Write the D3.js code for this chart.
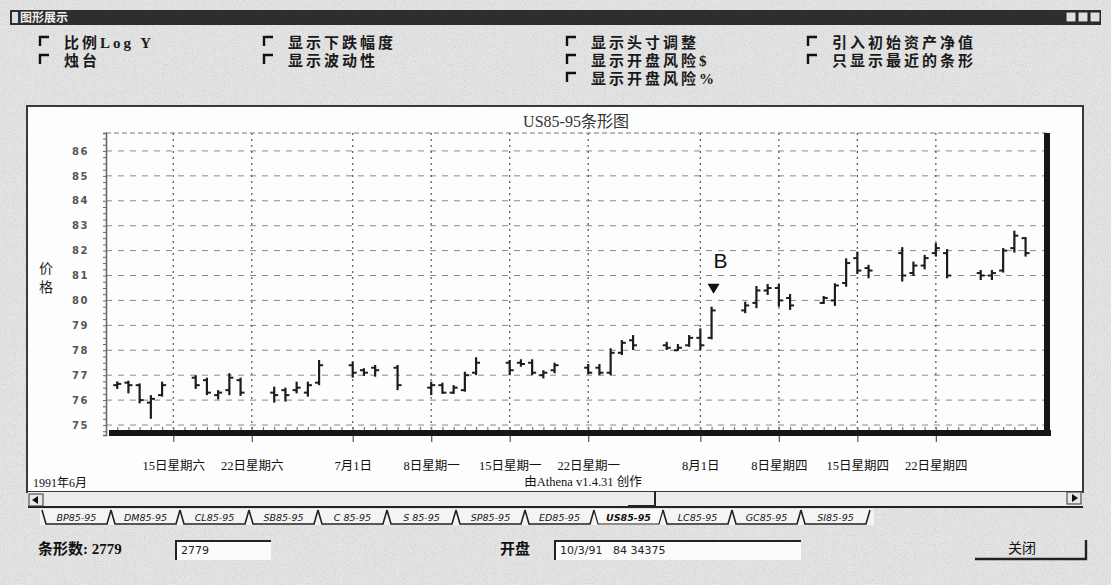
<!DOCTYPE html>
<html><head><meta charset="utf-8">
<script src="https://cdn.jsdelivr.net/npm/d3@7"></script>
<style>body{margin:0;background:#e3e3e3;} svg{display:block}</style>
</head><body><svg id="c" width="1111" height="585"></svg>
<script>
// ---------------- data ----------------
const dates = ["1991-06-10","1991-06-11","1991-06-12","1991-06-13","1991-06-14",
  "1991-06-17","1991-06-18","1991-06-19","1991-06-20","1991-06-21",
  "1991-06-24","1991-06-25","1991-06-26","1991-06-27","1991-06-28",
  "1991-07-01","1991-07-02","1991-07-03","1991-07-05",
  "1991-07-08","1991-07-09","1991-07-10","1991-07-11","1991-07-12",
  "1991-07-15","1991-07-16","1991-07-17","1991-07-18","1991-07-19",
  "1991-07-22","1991-07-23","1991-07-24","1991-07-25","1991-07-26",
  "1991-07-29","1991-07-30","1991-07-31","1991-08-01","1991-08-02",
  "1991-08-05","1991-08-06","1991-08-07","1991-08-08","1991-08-09",
  "1991-08-12","1991-08-13","1991-08-14","1991-08-15","1991-08-16",
  "1991-08-19","1991-08-20","1991-08-21","1991-08-22","1991-08-23",
  "1991-08-26","1991-08-27","1991-08-28","1991-08-29","1991-08-30"];
const open  = [76.6,76.7,76.6,75.9,76.2, 76.9,76.8,76.2,76.4,76.8, 76.3,76.4,76.4,76.3,76.7,
  77.4,77.2,77.3,77.3, 76.5,76.6,76.3,76.4,77.1, 77.5,77.5,77.5,77.0,77.2,
  77.3,77.3,77.1,77.9,78.4, 78.2,78.0,78.2,78.5,78.5, 79.6,79.9,80.4,80.5,80.1,
  79.9,80.0,80.7,81.7,81.3, 81.9,81.1,81.4,81.9,81.9, 81.1,81.0,81.2,82.1,82.5];
const high  = [76.75,76.78,76.67,76.2,76.74, 77.0,76.9,76.4,77.08,76.9, 76.54,76.5,76.74,76.74,77.61,
  77.54,77.28,77.41,77.41, 76.74,76.7,76.6,77.14,77.72, 77.61,77.64,77.64,77.2,77.5,
  77.45,77.45,78.08,78.41,78.61, 78.34,78.25,78.61,78.88,79.75, 79.95,80.58,80.66,80.66,80.26,
  80.18,80.69,81.69,81.96,81.43, 82.14,81.56,81.83,82.3,82.06, 81.22,81.22,82.1,82.8,82.54];
const low   = [76.45,76.27,75.87,75.25,76.14, 76.45,76.2,76.03,76.2,76.17, 75.9,75.94,76.27,76.14,76.6,
  76.9,76.97,76.94,76.4, 76.2,76.25,76.25,76.34,77.0, 77.0,77.34,77.0,76.87,77.08,
  77.05,77.0,77.0,77.81,78.01, 78.01,77.98,78.14,78.01,78.44, 79.49,79.69,80.22,79.75,79.62,
  79.86,79.78,80.55,81.06,80.89, 80.76,80.98,81.25,81.76,80.89, 80.82,80.82,81.12,81.92,81.76];
const close = [76.65,76.6,76.0,76.05,76.6, 76.6,76.3,76.3,76.9,76.3, 76.2,76.2,76.5,76.6,77.4,
  77.1,77.1,77.2,76.6, 76.6,76.3,76.5,77.0,77.5, 77.2,77.45,77.1,77.1,77.4,
  77.1,77.1,77.9,78.3,78.2, 78.1,78.1,78.5,78.2,79.6, 79.8,80.4,80.5,80.0,79.8,
  80.1,80.6,81.5,81.2,81.2, 81.0,81.4,81.7,82.1,81.0, 81.0,81.1,82.0,82.6,81.9];
const priceTicks = [75,76,77,78,79,80,81,82,83,84,85,86];
const tickDates  = ["1991-06-15","1991-06-22","1991-07-01","1991-07-08","1991-07-15",
  "1991-07-22","1991-08-01","1991-08-08","1991-08-15","1991-08-22"];
const tickLabels = ["15日星期六","22日星期六","7月1日","8日星期一","15日星期一",
  "22日星期一","8月1日","8日星期四","15日星期四","22日星期四"];
const signalDate = "1991-08-02";
const signalLabel = "B";
const chartTitle = "US85-95条形图";
const tabNames = ["BP85-95","DM85-95","CL85-95","SB85-95","C 85-95","S 85-95","SP85-95",
  "ED85-95","US85-95","LC85-95","GC85-95","SI85-95"];
const activeTab = "US85-95";
const optCol1 = ["比例Log Y","烛台"];
const optCol2 = ["显示下跌幅度","显示波动性"];
const optCol3 = ["显示头寸调整","显示开盘风险$","显示开盘风险%"];
const optCol4 = ["引入初始资产净值","只显示最近的条形"];

// ---------------- drawing ----------------
const parse = d3.timeParse("%Y-%m-%d");
const bars = dates.map((d,i)=>({date:parse(d),o:open[i],h:high[i],l:low[i],c:close[i]}));
const svg = d3.select("#c");
const CJK = "'Noto Sans CJK SC', sans-serif";
const SER = "'Liberation Serif','Noto Sans CJK SC', serif";

const defs = svg.append("defs");
const f = defs.append("filter").attr("id","grain").attr("x",0).attr("y",0).attr("width","100%").attr("height","100%");
f.append("feTurbulence").attr("type","fractalNoise").attr("baseFrequency",0.9).attr("numOctaves",1).attr("seed",3);
f.append("feColorMatrix").attr("type","matrix")
 .attr("values","0 0 0 0 0.25  0 0 0 0 0.25  0 0 0 0 0.25  1.6 0 0 0 -0.75");

// window background
svg.append("rect").attr("width",1111).attr("height",585).attr("fill","#e4e4e4");
svg.append("rect").attr("width",1111).attr("height",585).attr("filter","url(#grain)").attr("opacity",0.4);

// title bar
svg.append("rect").attr("x",10).attr("y",10).attr("width",1091).attr("height",15).attr("fill","#2e2e2e");
svg.append("rect").attr("x",12).attr("y",12).attr("width",6).attr("height",11).attr("fill","#ddd");
svg.append("text").attr("x",20).attr("y",22).text("图形展示")
  .attr("font-family",CJK).attr("font-size",12).attr("font-weight","bold").attr("fill","#f0f0f0");
[1066,1078,1090].forEach(bx=>{
  svg.append("rect").attr("x",bx).attr("y",12).attr("width",10).attr("height",10)
    .attr("fill","#e0e0e0").attr("stroke","#222").attr("stroke-width",1);
});

// option check boxes
function optColumn(labels,x0){
  labels.forEach((t,i)=>{
    const yy = 44 + i*18;
    svg.append("path").attr("d",`M${x0},${yy+2}V${yy-7}H${x0+9}`)
      .attr("fill","none").attr("stroke","#111").attr("stroke-width",2.4);
    svg.append("text").attr("x",x0+24).attr("y",yy+4).text(t)
      .attr("font-family",SER).attr("font-size",15).attr("letter-spacing",3)
      .attr("font-weight","bold").attr("fill","#1a1a1a");
  });
}
optColumn(optCol1,40); optColumn(optCol2,264); optColumn(optCol3,567); optColumn(optCol4,808);

// chart panel
svg.append("rect").attr("x",27).attr("y",106).attr("width",1056).attr("height",386)
  .attr("fill","#fdfdfd").attr("stroke","#3a3a3a").attr("stroke-width",2);

const x = d3.scaleTime().domain([new Date(1991,5,9), new Date(1991,8,1)]).range([106,1048]);
const y = d3.scaleLinear().domain([74.6, 86.72]).range([435,133]);
const plotL=106, plotR=1046, plotT=133, plotB=433;

// title
svg.append("text").attr("x",576).attr("y",127).attr("text-anchor","middle").text(chartTitle)
  .attr("font-family",SER).attr("font-size",16).attr("fill","#333");

// horizontal grid
svg.append("g").selectAll("line").data(priceTicks).join("line")
  .attr("x1",plotL).attr("x2",plotR).attr("y1",d=>y(d)).attr("y2",d=>y(d))
  .attr("stroke","#8a8a8a").attr("stroke-width",1).attr("stroke-dasharray","6,6");
// vertical grid
svg.append("g").selectAll("line").data(tickDates).join("line")
  .attr("x1",d=>x(parse(d))).attr("x2",d=>x(parse(d))).attr("y1",plotT).attr("y2",plotB)
  .attr("stroke","#555").attr("stroke-width",1.2).attr("stroke-dasharray","2,4");
// top border
svg.append("line").attr("x1",plotL).attr("x2",plotR).attr("y1",plotT).attr("y2",plotT)
  .attr("stroke","#777").attr("stroke-width",1.2).attr("stroke-dasharray","5,3");

// left axis with minor ticks
const minor = d3.range(74.75, 86.7, 0.25);
const gL = svg.append("g").attr("transform",`translate(${plotL},0)`)
  .call(d3.axisLeft(y).tickValues(minor).tickSize(3).tickFormat(""));
gL.selectAll("line").attr("stroke","#666");
gL.select(".domain").attr("stroke","#666").attr("stroke-width",1.5);
const gLab = svg.append("g").attr("transform",`translate(${plotL},0)`)
  .call(d3.axisLeft(y).tickValues(priceTicks).tickSize(0).tickPadding(17).tickFormat(d3.format("d")));
gLab.select(".domain").remove();
gLab.selectAll("text").attr("font-family","'DejaVu Sans', sans-serif").attr("font-size",10)
  .attr("font-weight","bold").attr("letter-spacing",1.5).attr("fill","#555");

// y title
svg.append("text").attr("x",46).attr("y",273).attr("text-anchor","middle").text("价")
  .attr("font-family",CJK).attr("font-size",14).attr("fill","#222");
svg.append("text").attr("x",46).attr("y",292).attr("text-anchor","middle").text("格")
  .attr("font-family",CJK).attr("font-size",14).attr("fill","#222");

// daily minor ticks above bottom line
const days = d3.timeDay.range(x.domain()[0], x.domain()[1]);
const gD = svg.append("g").attr("transform",`translate(0,${plotB-2})`)
  .call(d3.axisTop(x).tickValues(days).tickSize(4).tickFormat(""));
gD.select(".domain").remove();
gD.selectAll("line").attr("stroke","#777").attr("stroke-width",1.2);

// bottom axis labels
const gB = svg.append("g").attr("transform",`translate(0,${plotB+3})`)
  .call(d3.axisBottom(x).tickValues(tickDates.map(parse)).tickSize(6).tickPadding(19)
    .tickFormat((d,i)=>tickLabels[i]));
gB.select(".domain").remove();
gB.selectAll("line").attr("stroke","#555").attr("stroke-width",1.2);
gB.selectAll("text").attr("font-family",SER).attr("font-size",12.5).attr("fill","#111");

// thick frame (bottom & right)
svg.append("rect").attr("x",plotL+3).attr("y",plotB-3).attr("width",plotR-plotL+2).attr("height",6).attr("fill","#161616");
svg.append("rect").attr("x",plotR-2).attr("y",plotT).attr("width",6).attr("height",plotB-plotT+3).attr("fill","#161616");

// OHLC bars
const gBars = svg.append("g").attr("stroke","#1c1c1c").attr("fill","none");
bars.forEach(b=>{
  const cx = x(b.date);
  gBars.append("line").attr("x1",cx).attr("x2",cx).attr("y1",y(b.h)).attr("y2",y(b.l)).attr("stroke-width",2.2);
  gBars.append("line").attr("x1",cx-4).attr("x2",cx).attr("y1",y(b.o)).attr("y2",y(b.o)).attr("stroke-width",2);
  gBars.append("line").attr("x1",cx).attr("x2",cx+4).attr("y1",y(b.c)).attr("y2",y(b.c)).attr("stroke-width",2);
});

// signal marker
const sb = bars.find(b=>+b.date===+parse(signalDate));
const sx = x(sb.date)+2, sy = y(sb.h);
svg.append("path").attr("d",`M${sx-6},${sy-23}L${sx+6},${sy-23}L${sx},${sy-13}Z`).attr("fill","#111");
svg.append("text").attr("x",sx+7).attr("y",sy-39).attr("text-anchor","middle").text(signalLabel)
  .attr("font-family","'Liberation Sans', Arial, sans-serif").attr("font-size",21).attr("fill","#111");

// panel footer
svg.append("text").attr("x",33).attr("y",487).text("1991年6月")
  .attr("font-family",SER).attr("font-size",12).attr("fill","#111");
svg.append("text").attr("x",583).attr("y",486).attr("text-anchor","middle").text("由Athena v1.4.31 创作")
  .attr("font-family",SER).attr("font-size",12.5).attr("fill","#111");

// scroll bar
svg.append("rect").attr("x",28).attr("y",492).attr("width",1054).attr("height",14).attr("fill","#ececec");
svg.append("line").attr("x1",28).attr("x2",1083).attr("y1",507).attr("y2",507).attr("stroke","#222").attr("stroke-width",2);
svg.append("rect").attr("x",29).attr("y",494).attr("width",14).attr("height",12).attr("fill","#e8e8e8").attr("stroke","#333");
svg.append("path").attr("d","M32,500L38,496V504Z").attr("fill","#111");
svg.append("rect").attr("x",1067).attr("y",492).attr("width",14).attr("height",12).attr("fill","#e8e8e8").attr("stroke","#333");
svg.append("path").attr("d","M1078,498L1072,494V502Z").attr("fill","#111");
svg.append("path").attr("d","M628,506H655V491").attr("fill","none").attr("stroke","#222").attr("stroke-width",2);

// tabs
const tabW = 69, tab0 = 42;
const gT = svg.append("g");
gT.append("rect").attr("x",tab0-2).attr("y",509).attr("width",tabW*tabNames.length+6).attr("height",16).attr("fill","#f4f4f4");
tabNames.forEach((t,i)=>{
  const tx = tab0 + i*tabW;
  const act = t===activeTab;
  gT.append("path").attr("d",`M${tx},510L${tx+4},524H${tx+tabW-4}L${tx+tabW},510`)
    .attr("fill",act?"#fafafa":"none").attr("stroke","#222").attr("stroke-width",act?1.2:1.6);
  gT.append("text").attr("x",tx+tabW/2).attr("y",521).attr("text-anchor","middle").text(t)
    .attr("font-family","'DejaVu Sans', sans-serif").attr("font-size",9.5)
    .attr("font-style","italic").attr("font-weight",act?"bold":"normal").attr("fill","#111");
});

// bottom controls
svg.append("text").attr("x",38).attr("y",554).text("条形数: 2779")
  .attr("font-family",SER).attr("font-size",15).attr("font-weight","bold").attr("fill","#111");
function inputBox(x0,w,txt){
  svg.append("rect").attr("x",x0).attr("y",541).attr("width",w).attr("height",19).attr("fill","#fbfbfb");
  svg.append("path").attr("d",`M${x0},560V541H${x0+w}`).attr("fill","none").attr("stroke","#222").attr("stroke-width",2);
  svg.append("text").attr("x",x0+5).attr("y",554).text(txt).style("white-space","pre")
    .attr("font-family","'DejaVu Sans', sans-serif").attr("font-size",11).attr("fill","#222");
}
inputBox(176,95,"2779");
svg.append("text").attr("x",500).attr("y",554).text("开盘")
  .attr("font-family",SER).attr("font-size",15).attr("font-weight","bold").attr("fill","#111");
inputBox(555,246,"10/3/91   84 34375");
// close button
svg.append("path").attr("d","M975,559H1086V540").attr("fill","none").attr("stroke","#222").attr("stroke-width",2.4);
svg.append("text").attr("x",1022).attr("y",553).attr("text-anchor","middle").text("关闭")
  .attr("font-family",CJK).attr("font-size",14).attr("fill","#111");
</script></body></html>
